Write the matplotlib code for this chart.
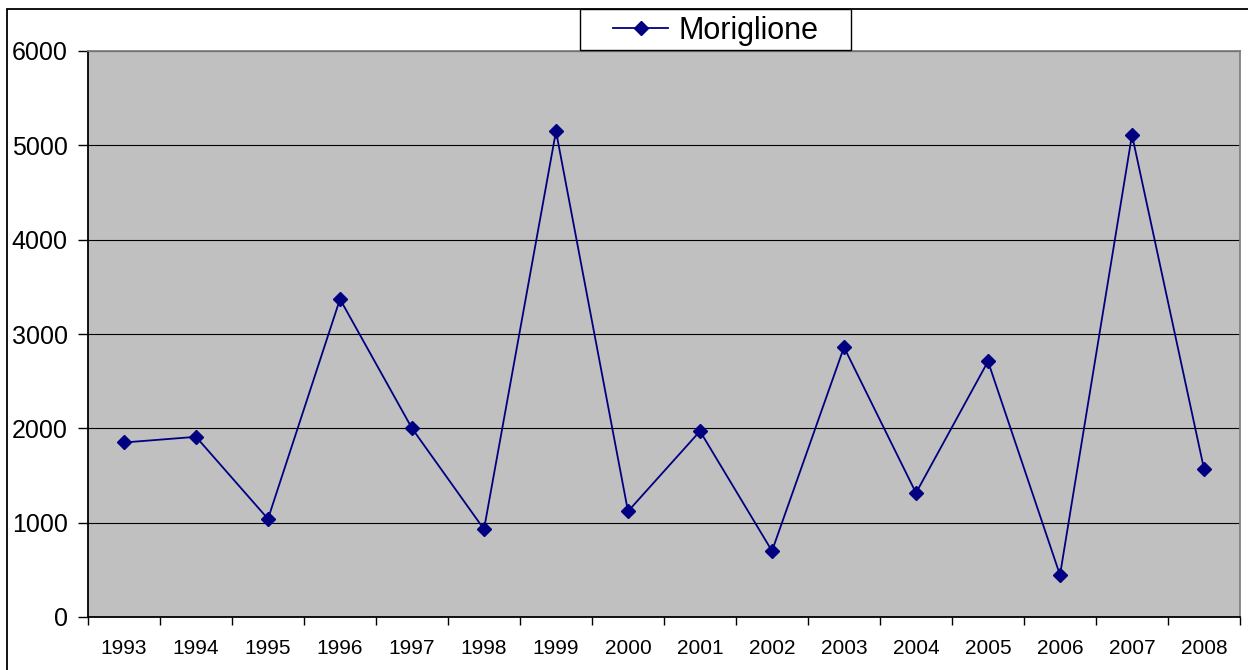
import matplotlib.pyplot as plt
from matplotlib.patches import Rectangle
from matplotlib.lines import Line2D

plt.rcParams['font.family'] = ['Liberation Sans', 'DejaVu Sans']

# data
years = ['1993', '1994', '1995', '1996', '1997', '1998', '1999', '2000',
         '2001', '2002', '2003', '2004', '2005', '2006', '2007', '2008']
moriglione = [1850, 1910, 1040, 3370, 2000, 930, 5150, 1120,
              1970, 700, 2860, 1315, 2710, 445, 5110, 1570]
y_ticks = [0, 1000, 2000, 3000, 4000, 5000, 6000]

fig = plt.figure(figsize=(12.48, 6.7), dpi=100)
ax = fig.add_axes([88 / 1248, 53 / 670, 1152 / 1248, 566 / 670])

# outer chart border (right/bottom fall outside the picture)
fig.patches.append(Rectangle((7 / 1248, -0.5), 2, 1 - 9 / 670 + 0.5,
                             transform=fig.transFigure, fill=False,
                             edgecolor='black', linewidth=1.3, zorder=0))

ax.set_facecolor('#c0c0c0')
x = list(range(len(years)))
ax.plot(x, moriglione, color='#000080', linewidth=1.3, marker='D',
        markersize=7, markerfacecolor='#000080', markeredgecolor='#000080',
        zorder=3)

ax.set_xlim(-0.5, len(years) - 0.5)
ax.set_ylim(0, 6000)
ax.set_yticks(y_ticks)
ax.set_yticklabels([str(v) for v in y_ticks], fontsize=18)
ax.yaxis.grid(True, color='black', linewidth=0.8)
ax.set_axisbelow(True)
ax.tick_params(axis='y', length=7, width=1, color='black', pad=7.5)

ax.set_xticks(x)
ax.set_xticklabels(years, fontsize=15)
ax.set_xticks([i - 0.5 for i in range(len(years) + 1)], minor=True)
ax.tick_params(axis='x', which='major', length=0, pad=16)
ax.tick_params(axis='x', which='minor', length=6, width=1, color='black')

ax.spines['left'].set_color('black')
ax.spines['bottom'].set_color('black')
ax.spines['top'].set_color('#808080')
ax.spines['right'].set_color('#808080')
for s in ax.spines.values():
    s.set_linewidth(1.3)

# legend box
fig.patches.append(Rectangle((580 / 1248, 1 - 50 / 670), 271 / 1248, 41 / 670,
                             transform=fig.transFigure, facecolor='white',
                             edgecolor='black', linewidth=1.0, zorder=5))
handle = Line2D([], [], color='#000080', linewidth=1.3, marker='D',
                markersize=7, markerfacecolor='#000080')
leg = fig.legend([handle], ['Moriglione'], loc='center',
                 bbox_to_anchor=(716 / 1248, 1 - 31 / 670),
                 fontsize=22, frameon=False, borderpad=0,
                 handlelength=1.8, handletextpad=0.33, borderaxespad=0)
leg.set_zorder(6)

fig.savefig('out.png', dpi=100)
